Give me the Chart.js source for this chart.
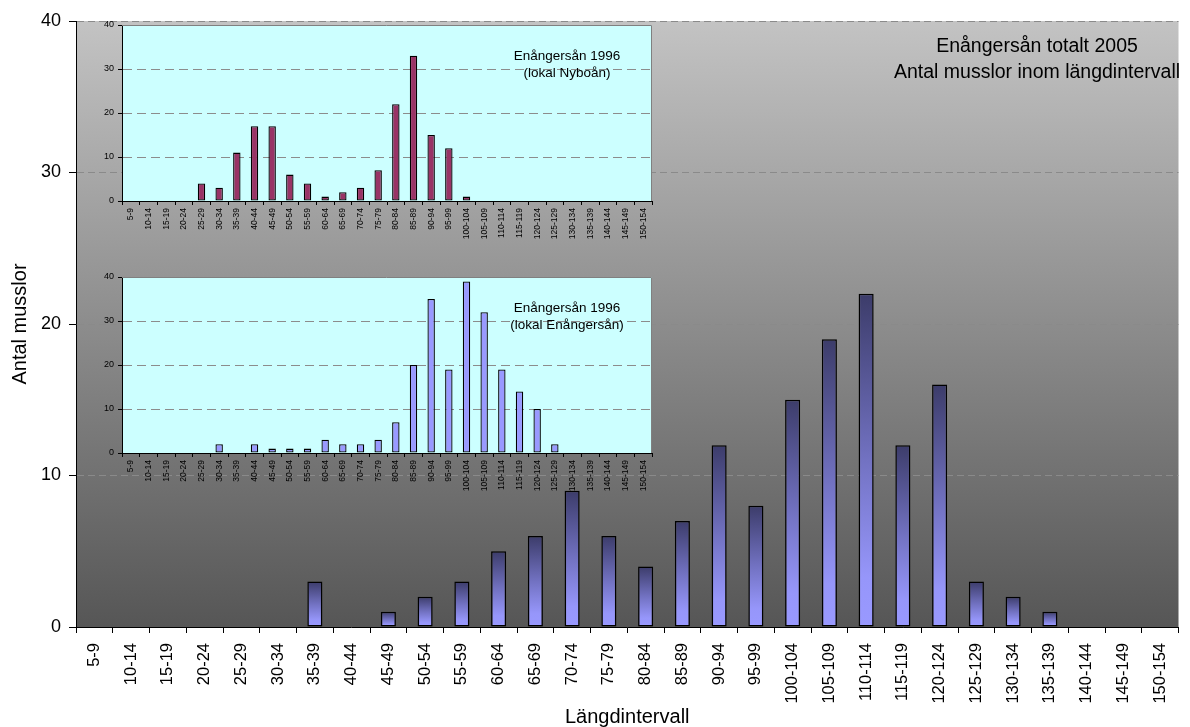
<!DOCTYPE html>
<html>
<head>
<meta charset="utf-8">
<title>Enångersån – längdfördelning</title>
<script src="https://cdn.jsdelivr.net/npm/chart.js@4.4.0/dist/chart.umd.min.js"></script>
<style>
  html, body { margin: 0; padding: 0; background: #ffffff; }
  #wrap { position: relative; width: 1190px; height: 727px; overflow: hidden; }
  canvas { position: absolute; }
  #main { left: 0; top: 0; }
  #nyboan { left: 80px; top: 12px; }
  #enanger { left: 80px; top: 264px; }
</style>
</head>
<body>
<div id="wrap">
  <canvas id="main" width="1190" height="727"></canvas>
  <canvas id="nyboan" width="580" height="235"></canvas>
  <canvas id="enanger" width="580" height="235"></canvas>
</div>
<script>
// Length classes (mm) shared by all three histograms
const lengthClasses = ['5-9', '10-14', '15-19', '20-24', '25-29', '30-34', '35-39', '40-44', '45-49', '50-54',
  '55-59', '60-64', '65-69', '70-74', '75-79', '80-84', '85-89', '90-94', '95-99', '100-104',
  '105-109', '110-114', '115-119', '120-124', '125-129', '130-134', '135-139', '140-144', '145-149', '150-154'];

// Number of mussels per length class
const total2005 = [0, 0, 0, 0, 0, 0, 3, 0, 1, 2, 3, 5, 6, 9, 6, 4, 7, 12, 8, 15, 19, 22, 12, 16, 3, 2, 1, 0, 0, 0];
const nyboan1996 = [0, 0, 0, 0, 4, 3, 11, 17, 17, 6, 4, 1, 2, 3, 7, 22, 33, 15, 12, 1, 0, 0, 0, 0, 0, 0, 0, 0, 0, 0];
const enangersan1996 = [0, 0, 0, 0, 0, 2, 0, 2, 1, 1, 1, 3, 2, 2, 3, 7, 20, 35, 19, 39, 32, 19, 14, 10, 2, 0, 0, 0, 0, 0];

// Axis range and captions
const yMin = 0, yMax = 40, yStep = 10;
const mainTitleLines = ['Enångersån totalt 2005', 'Antal musslor inom längdintervall'];
const nyboanCaption = ['Enångersån 1996', '(lokal Nyboån)'];
const enangerCaption = ['Enångersån 1996', '(lokal Enångersån)'];
const yAxisTitle = 'Antal musslor';
const xAxisTitle = 'Längdintervall';

Chart.defaults.font.family = '"Liberation Sans", Arial, sans-serif';
Chart.defaults.color = '#000';

// Fills the plot area (solid colour or vertical gradient) and optionally frames its top/right edges
const plotFill = {
  id: 'plotFill',
  beforeDraw(chart, args, opts) {
    const a = chart.chartArea;
    if (!a) return;
    const ctx = chart.ctx;
    ctx.save();
    if (opts.from) {
      const g = ctx.createLinearGradient(0, a.top, 0, a.bottom);
      g.addColorStop(0, opts.from);
      g.addColorStop(1, opts.to);
      ctx.fillStyle = g;
    } else {
      ctx.fillStyle = opts.color || 'transparent';
    }
    ctx.fillRect(a.left, a.top, a.right - a.left, a.bottom - a.top);
    ctx.restore();
  },
  afterDraw(chart, args, opts) {
    if (!opts.frame) return;
    const a = chart.chartArea;
    const ctx = chart.ctx;
    ctx.save();
    ctx.strokeStyle = opts.frame;
    ctx.lineWidth = 1;
    ctx.beginPath();
    ctx.moveTo(a.left, a.top + 0.5);
    ctx.lineTo(a.right - 0.5, a.top + 0.5);
    ctx.lineTo(a.right - 0.5, a.bottom);
    ctx.stroke();
    ctx.restore();
  }
};

// Free-standing caption text (centred lines)
const caption = {
  id: 'caption',
  afterDraw(chart, args, opts) {
    if (!opts.lines) return;
    const ctx = chart.ctx;
    ctx.save();
    ctx.fillStyle = '#000';
    ctx.textAlign = 'center';
    ctx.textBaseline = 'middle';
    ctx.font = opts.size + 'px "Liberation Sans", Arial, sans-serif';
    opts.lines.forEach((t, i) => ctx.fillText(t, opts.x, opts.y + i * opts.gap));
    ctx.restore();
  }
};

// Per-bar vertical shading: dark at the top, light lavender at the base
function shadedBar(context) {
  const chart = context.chart;
  const y = chart.scales.y;
  if (context.type !== 'data' || !y || !chart.chartArea) return '#9999ff';
  const top = y.getPixelForValue(context.raw);
  const base = y.getPixelForValue(0);
  if (!(base - top > 1)) return '#9999ff';
  const g = chart.ctx.createLinearGradient(0, top, 0, base);
  g.addColorStop(0, '#3c3c6a');
  g.addColorStop(0.5, '#7272c2');
  g.addColorStop(0.85, '#9696fa');
  g.addColorStop(1, '#9999ff');
  return g;
}

// Main histogram, 2005
new Chart(document.getElementById('main'), {
  type: 'bar',
  data: {
    labels: lengthClasses,
    datasets: [{
      data: total2005,
      backgroundColor: shadedBar,
      borderColor: '#000',
      borderWidth: 1.5,
      borderSkipped: false,
      barPercentage: 0.41,
      categoryPercentage: 1
    }]
  },
  options: {
    responsive: false,
    animation: false,
    devicePixelRatio: 1,
    layout: { padding: { left: 0, top: 21, right: 4, bottom: 0 } },
    plugins: {
      legend: { display: false },
      tooltip: { enabled: false },
      plotFill: { from: '#c3c3c3', to: '#565656' },
      caption: { lines: mainTitleLines, x: 1037, y: 47, gap: 26, size: 19.5 }
    },
    scales: {
      x: {
        grid: { offset: true, drawOnChartArea: false, tickLength: 6, color: '#000', tickColor: '#000' },
        border: { color: '#000', width: 1 },
        ticks: { autoSkip: false, minRotation: 90, maxRotation: 90, padding: 10, font: { size: 16.5 }, color: '#000' },
        title: { display: true, text: xAxisTitle, font: { size: 20, lineHeight: 1 }, padding: { top: 0, bottom: 0 }, color: '#000' },
        afterFit: s => { s.height = 100; }
      },
      y: {
        min: yMin, max: yMax,
        ticks: { stepSize: yStep, padding: 8, font: { size: 18 }, color: '#000' },
        grid: { color: '#8a8a8a', lineWidth: 1, tickLength: 7, tickColor: '#000', tickWidth: 1 },
        border: { color: '#000', width: 1, dash: [7, 4] },
        title: { display: true, text: yAxisTitle, font: { size: 20 }, padding: { top: 8, bottom: 0 }, color: '#000' },
        afterFit: s => { s.width = 76; }
      }
    }
  },
  plugins: [plotFill, caption]
});

// Small 1996 histograms
function insetChart(id, values, color, lines) {
  return new Chart(document.getElementById(id), {
    type: 'bar',
    data: {
      labels: lengthClasses,
      datasets: [{
        data: values,
        backgroundColor: color,
        borderColor: '#000',
        borderWidth: 1.3,
        borderSkipped: false,
        barPercentage: 0.42,
        categoryPercentage: 1
      }]
    },
    options: {
      responsive: false,
      animation: false,
      devicePixelRatio: 1,
      layout: { padding: { left: 0, top: 13, right: 8, bottom: 0 } },
      plugins: {
        legend: { display: false },
        tooltip: { enabled: false },
        plotFill: { color: '#ccffff', frame: '#808080' },
        caption: { lines: lines, x: 487, y: 44, gap: 17, size: 13.5 }
      },
      scales: {
        x: {
          grid: { offset: true, drawOnChartArea: false, tickLength: 4, color: '#000', tickColor: '#000' },
          border: { color: '#000', width: 1 },
          ticks: { autoSkip: false, minRotation: 90, maxRotation: 90, padding: 3, font: { size: 8.5 }, color: '#000' },
          afterFit: s => { s.height = 46; }
        },
        y: {
          min: yMin, max: yMax,
          ticks: { stepSize: yStep, padding: 4, font: { size: 9 }, color: '#000' },
          grid: {
            color: c => (c.tick && c.tick.value === yMax) ? 'rgba(0,0,0,0)' : '#8c8c8c',
            tickLength: 4, tickColor: '#000', tickWidth: 1
          },
          border: { color: '#000', width: 1, dash: [9, 5] },
          afterFit: s => { s.width = 42; }
        }
      }
    },
    plugins: [plotFill, caption]
  });
}

insetChart('nyboan', nyboan1996, '#993366', nyboanCaption);
insetChart('enanger', enangersan1996, '#9999ff', enangerCaption);
</script>
</body>
</html>
